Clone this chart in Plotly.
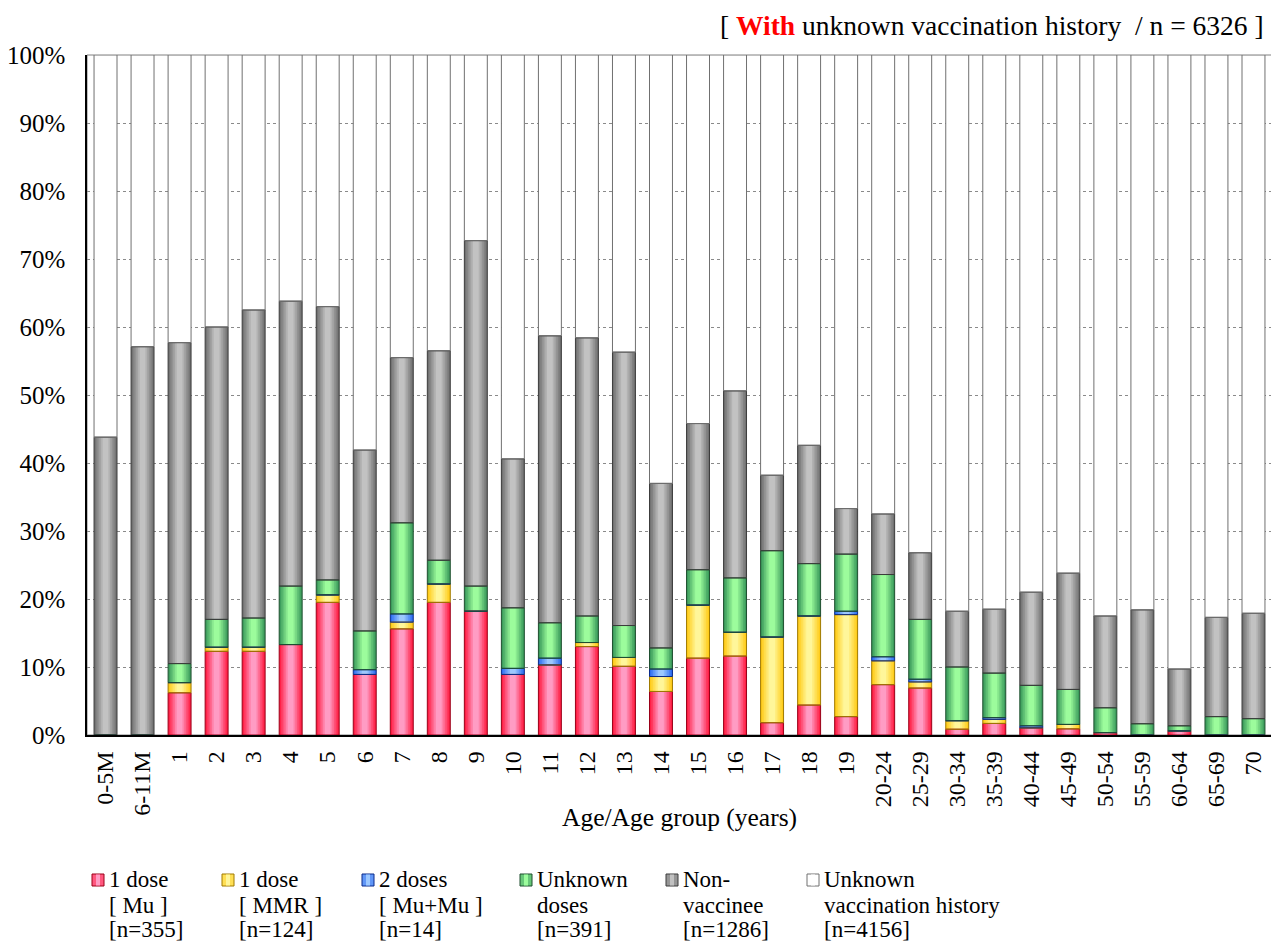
import numpy as np
import plotly.graph_objects as go

categories = ["0-5M", "6-11M", "1", "2", "3", "4", "5", "6", "7", "8", "9", "10",
              "11", "12", "13", "14", "15", "16", "17", "18", "19", "20-24", "25-29",
              "30-34", "35-39", "40-44", "45-49", "50-54", "55-59", "60-64", "65-69", "70"]

# percentages (each segment height)
mu_1dose = [0, 0, 6.2, 12.3, 12.3, 13.3, 19.5, 8.9, 15.6, 19.5, 18.2, 8.9, 10.3, 13.0, 10.1, 6.4,
            11.3, 11.6, 1.8, 4.4, 2.7, 7.4, 6.9, 0.85, 1.7, 1.05, 0.9, 0.35, 0, 0.6, 0, 0]
mmr_1dose = [0, 0, 1.5, 0.6, 0.6, 0, 1.1, 0, 1.0, 2.7, 0, 0, 0, 0.6, 1.3, 2.2,
             7.8, 3.5, 12.6, 13.1, 15.0, 3.5, 0.9, 1.25, 0.6, 0, 0.65, 0, 0, 0, 0, 0]
mumu_2doses = [0, 0, 0, 0, 0, 0, 0, 0.7, 1.2, 0, 0, 0.9, 1.0, 0, 0, 1.1,
               0, 0, 0, 0, 0.5, 0.6, 0.4, 0, 0.25, 0.3, 0, 0, 0, 0, 0, 0]
unknown_doses = [0, 0, 2.8, 4.1, 4.3, 8.6, 2.2, 5.7, 13.4, 3.5, 3.7, 8.9, 5.2, 3.9, 4.7, 3.1,
                 5.2, 8.0, 12.7, 7.7, 8.4, 12.1, 8.8, 7.9, 6.55, 5.95, 5.15, 3.65, 1.65, 0.75, 2.7, 2.4]
non_vaccinee = [43.8, 57.1, 47.2, 43.0, 45.3, 41.9, 40.2, 26.6, 24.3, 30.8, 50.8, 21.9, 42.2, 40.9, 40.2, 24.2,
                21.5, 27.5, 11.1, 17.4, 6.7, 8.9, 9.8, 8.2, 9.4, 13.7, 17.1, 13.5, 16.75, 8.35, 14.6, 15.5]
unknown_history = [56.2, 42.9, 42.3, 40.0, 37.5, 36.2, 37.0, 58.1, 44.5, 43.5, 27.3, 59.4, 41.3, 41.6, 43.7, 63.0,
                   54.2, 49.4, 61.8, 57.4, 66.7, 67.5, 73.2, 81.8, 81.5, 79.0, 76.2, 82.5, 81.6, 90.3, 82.7, 82.1]

legend_lines = [["1 dose", "[ Mu ]", "[n=355]"],
                ["1 dose", "[ MMR ]", "[n=124]"],
                ["2 doses", "[ Mu+Mu ]", "[n=14]"],
                ["Unknown", "doses", "[n=391]"],
                ["Non-", "vaccinee", "[n=1286]"],
                ["Unknown", "vaccination history", "[n=4156]"]]
series_values = [mu_1dose, mmr_1dose, mumu_2doses, unknown_doses, non_vaccinee, unknown_history]

# (edge colour, centre colour, outline colour)
styles = [("#ff1f45", "#ff9cc4", "#9a0018"),
          ("#ffcc1a", "#fff69a", "#a07a00"),
          ("#2f6ef0", "#9cc8ff", "#0a2a8a"),
          ("#3c9c5c", "#9cfc9c", "#1f4f2f"),
          ("#727272", "#c2c2c2", "#3c3c3c"),
          ("#ffffff", "#ffffff", "#707070")]

FONT = "Liberation Serif, Times New Roman, serif"
BW = 0.62
OFF = 8  # browser body margin


def mix(c1, c2, t):
    a = np.array([int(c1[i:i + 2], 16) for i in (1, 3, 5)])
    b = np.array([int(c2[i:i + 2], 16) for i in (1, 3, 5)])
    c = np.round(a + (b - a) * t).astype(int)
    return "#%02x%02x%02x" % tuple(c)


fig = go.Figure()
bases = np.zeros(len(categories))
steps = [1.0, 0.85, 0.7, 0.55, 0.4, 0.25]
outlines = []
for lines, vals, (edge, centre, line) in zip(legend_lines, series_values, styles):
    name = " ".join(lines)
    v = np.array(vals, dtype=float)
    nsteps = steps if edge != centre else [1.0]
    for k, frac in enumerate(nsteps):
        t = k / (len(nsteps) - 1) if len(nsteps) > 1 else 1.0
        col = mix(edge, centre, t) if len(nsteps) > 1 else centre
        fig.add_trace(go.Bar(
            x=categories, y=v, base=bases.copy(), width=BW * frac,
            name=name, showlegend=False,
            marker=dict(color=col, line=dict(width=0)),
            hoverinfo="skip" if k else "y+name"))
    outlines.append((v, bases.copy(), line))
    bases = bases + v

for v, b, line in outlines:
    fig.add_trace(go.Bar(x=categories, y=v, base=b, width=BW, showlegend=False,
                         marker=dict(color="rgba(0,0,0,0)", line=dict(color=line, width=1)),
                         hoverinfo="skip"))

W, H = 1279 - OFF, 944 - OFF
fig.update_layout(
    width=W, height=H,
    barmode="overlay",
    plot_bgcolor="white", paper_bgcolor="white",
    margin=dict(l=87 - OFF, r=7, t=55 - OFF, b=944 - 735, autoexpand=False),
    font=dict(family=FONT, size=24, color="black"),
    showlegend=False,
)
fig.update_xaxes(type="category", categoryorder="array", categoryarray=categories,
                 tickangle=-90, ticks="", showline=True, linecolor="black", linewidth=1.5,
                 showgrid=False, tickfont=dict(family=FONT, size=24), ticklabelstandoff=5,
                 range=[-0.5, len(categories) - 0.5])
fig.update_yaxes(range=[0, 100], dtick=10, ticksuffix="%", ticks="", showline=True,
                 linecolor="black", linewidth=1.5, showgrid=True, gridcolor="#8a8a8a",
                 griddash="dot", gridwidth=1, zeroline=False,
                 tickfont=dict(family=FONT, size=25), ticklabelstandoff=15)

# plot frame (top and right)
fig.add_shape(type="rect", xref="paper", yref="paper", x0=0, x1=1, y0=0, y1=1,
              line=dict(color="#808080", width=1), layer="below")


def px(xpage):
    return (xpage - 87) / 1185.0


def py(ypage):
    return (735 - ypage) / 680.0


fig.add_annotation(xref="paper", yref="paper", x=0.5, y=py(817), xanchor="center", yanchor="middle",
                   text="Age/Age group (years)", showarrow=False, font=dict(family=FONT, size=25.5))
fig.add_annotation(xref="paper", yref="paper", x=px(1266), y=py(25.5), xanchor="right", yanchor="middle",
                   text="[ <b><span style='color:#ff0000'>With</span></b> unknown vaccination history&nbsp; / n = 6326 ]",
                   showarrow=False, font=dict(family=FONT, size=27.5))

# legend (drawn as text + swatches to match the original's spacing)
text_x = [107, 237, 377, 535, 681, 822]
line_y = [880, 905, 930]
for tx, lines, (edge, centre, line) in zip(text_x, legend_lines, styles):
    fig.add_shape(type="rect", xref="paper", yref="paper",
                  x0=px(tx - 15), x1=px(tx - 3), y0=py(886), y1=py(874),
                  fillcolor=mix(edge, centre, 0.45), line=dict(color=line, width=1))
    fig.add_shape(type="rect", xref="paper", yref="paper",
                  x0=px(tx - 11), x1=px(tx - 7), y0=py(885.5), y1=py(874.5),
                  fillcolor=centre, line=dict(width=0))
    for ly, txt in zip(line_y, lines):
        fig.add_annotation(xref="paper", yref="paper", x=px(tx), y=py(ly), xanchor="left",
                           yanchor="middle", text=txt, showarrow=False,
                           font=dict(family=FONT, size=23))

fig.write_html("out.html")
